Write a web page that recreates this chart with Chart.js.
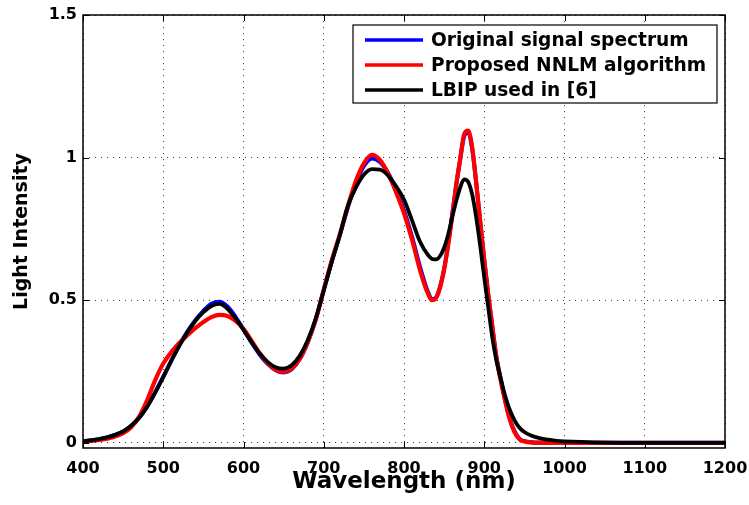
<!DOCTYPE html>
<html>
<head>
<meta charset="utf-8">
<script src="https://cdn.jsdelivr.net/npm/chart.js@4.4.0/dist/chart.umd.min.js"></script>
<style>
  html, body { margin: 0; padding: 0; background: #fff; }
  #wrap { width: 749px; height: 505px; }
</style>
</head>
<body>
<div id="wrap"><canvas id="spectrum" width="749" height="505"></canvas></div>
<script>
// wavelength samples (nm)
const wavelengths = [
  400, 410, 420, 430, 440, 450, 460, 470, 480, 490,
  500, 510, 520, 530, 540, 550, 560, 570, 580, 590,
  600, 610, 620, 630, 640, 650, 660, 670, 680, 690,
  700, 710, 720, 730, 740, 750, 760, 770, 780, 790,
  800, 810, 820, 830, 835, 840, 845, 850, 855, 860,
  865, 870, 875, 880, 885, 890, 895, 900, 905, 910,
  915, 920, 925, 930, 935, 940, 945, 950, 960, 970,
  980, 990, 1000, 1050, 1100, 1150, 1200
];

const original = [
  0.006, 0.009, 0.013, 0.019, 0.028, 0.040, 0.060, 0.088, 0.128, 0.178,
  0.232, 0.288, 0.342, 0.390, 0.430, 0.463, 0.488, 0.495, 0.478, 0.442,
  0.398, 0.352, 0.310, 0.277, 0.255, 0.247, 0.258, 0.293, 0.352, 0.432,
  0.535, 0.636, 0.728, 0.825, 0.910, 0.970, 0.997, 0.985, 0.947, 0.888,
  0.815, 0.722, 0.617, 0.528, 0.503, 0.510, 0.548, 0.610, 0.697, 0.798,
  0.903, 0.993, 1.075, 1.088, 1.030, 0.910, 0.775, 0.640, 0.520, 0.410,
  0.303, 0.232, 0.163, 0.104, 0.058, 0.029, 0.012, 0.006, 0.002, 0.001,
  0, 0, 0, 0, 0, 0, 0
];

const proposed = [
  0.005, 0.007, 0.010, 0.015, 0.022, 0.034, 0.055, 0.092, 0.150, 0.220,
  0.278, 0.318, 0.350, 0.377, 0.402, 0.424, 0.441, 0.449, 0.445, 0.428,
  0.400, 0.358, 0.315, 0.280, 0.257, 0.249, 0.260, 0.294, 0.353, 0.433,
  0.537, 0.640, 0.730, 0.830, 0.918, 0.980, 1.010, 0.992, 0.945, 0.880,
  0.805, 0.712, 0.605, 0.522, 0.500, 0.508, 0.545, 0.607, 0.693, 0.795,
  0.902, 0.995, 1.082, 1.095, 1.035, 0.912, 0.775, 0.640, 0.518, 0.408,
  0.303, 0.225, 0.160, 0.100, 0.056, 0.026, 0.010, 0.005, 0.001, 0,
  0, 0, 0, 0, 0, 0, 0
];

const lbip = [
  0.006, 0.009, 0.013, 0.019, 0.028, 0.040, 0.060, 0.088, 0.127, 0.176,
  0.230, 0.287, 0.340, 0.387, 0.427, 0.458, 0.480, 0.487, 0.470, 0.437,
  0.396, 0.353, 0.314, 0.284, 0.265, 0.260, 0.272, 0.305, 0.360, 0.436,
  0.535, 0.635, 0.728, 0.830, 0.895, 0.940, 0.960, 0.958, 0.938, 0.900,
  0.853, 0.780, 0.705, 0.658, 0.645, 0.643, 0.655, 0.684, 0.730, 0.790,
  0.847, 0.895, 0.924, 0.915, 0.870, 0.790, 0.690, 0.580, 0.475, 0.370,
  0.290, 0.232, 0.175, 0.130, 0.095, 0.068, 0.050, 0.038, 0.024, 0.016,
  0.011, 0.007, 0.005, 0.001, 0, 0, 0
];

const seriesLabels = ["Original signal spectrum", "Proposed NNLM algorithm", "LBIP used in [6]"];
const seriesColors = ["#0000ff", "#ff0000", "#000000"];
const yTicks = [0, 0.5, 1, 1.5];

const FONT = "'DejaVu Sans', sans-serif";

const toPoints = (vals) => wavelengths.map((w, i) => ({ x: w, y: vals[i] }));

// box round the plot with inward tick marks, like the old matlab figures
const boxPlugin = {
  id: "box",
  afterDraw(chart) {
    const { ctx, chartArea: a, scales } = chart;
    ctx.save();
    ctx.strokeStyle = "#000";
    ctx.lineWidth = 1.5;
    ctx.strokeRect(a.left, a.top, a.right - a.left, a.bottom - a.top);

    ctx.lineWidth = 1;
    const len = 6;
    ctx.beginPath();
    scales.x.ticks.forEach((t) => {
      const px = Math.round(scales.x.getPixelForValue(t.value)) + 0.5;
      ctx.moveTo(px, a.bottom); ctx.lineTo(px, a.bottom - len);
      ctx.moveTo(px, a.top); ctx.lineTo(px, a.top + len);
    });
    scales.y.ticks.forEach((t) => {
      const py = Math.round(scales.y.getPixelForValue(t.value)) + 0.5;
      ctx.moveTo(a.left, py); ctx.lineTo(a.left + len, py);
      ctx.moveTo(a.right, py); ctx.lineTo(a.right - len, py);
    });
    ctx.stroke();

    // legend box inside the plot, top right
    const lx = 353, ly = 25, lw = 364, lh = 78;
    ctx.fillStyle = "#fff";
    ctx.fillRect(lx, ly, lw, lh);
    ctx.lineWidth = 1.2;
    ctx.strokeRect(lx, ly, lw, lh);
    ctx.font = "bold 18.6px " + FONT;
    ctx.textBaseline = "middle";
    ctx.textAlign = "left";
    chart.data.datasets.forEach((ds, i) => {
      const y = ly + 15 + i * 25;
      ctx.strokeStyle = ds.borderColor;
      ctx.lineWidth = 3.5;
      ctx.beginPath();
      ctx.moveTo(lx + 12, y);
      ctx.lineTo(lx + 70, y);
      ctx.stroke();
      ctx.fillStyle = "#000";
      ctx.fillText(ds.label, lx + 78, y + 1);
    });
    ctx.restore();
  }
};

const ctx = document.getElementById("spectrum").getContext("2d");
new Chart(ctx, {
  type: "line",
  data: {
    datasets: [
      { label: seriesLabels[0], data: toPoints(original), borderColor: seriesColors[0], borderWidth: 4, order: 3 },
      { label: seriesLabels[1], data: toPoints(proposed), borderColor: seriesColors[1], borderWidth: 4.2, order: 2 },
      { label: seriesLabels[2], data: toPoints(lbip), borderColor: seriesColors[2], borderWidth: 3.8, order: 1 }
    ]
  },
  options: {
    responsive: false,
    animation: false,
    devicePixelRatio: 1,
    elements: {
      point: { radius: 0 },
      line: { cubicInterpolationMode: "monotone", fill: false }
    },
    layout: { padding: { top: 15, right: 24, left: 0, bottom: 0 } },
    scales: {
      x: {
        type: "linear",
        min: 400,
        max: 1200,
        ticks: {
          stepSize: 100,
          color: "#000",
          padding: 11,
          font: { family: FONT, size: 16, weight: "bold" },
          callback: (v) => String(v)
        },
        grid: { color: "rgba(0,0,0,0.75)", lineWidth: 1, drawTicks: false },
        border: { display: false, dash: [1, 5] },
        title: {
          display: true,
          text: "Wavelength (nm)",
          color: "#000",
          font: { family: FONT, size: 23, weight: "bold" },
          padding: { top: 0, bottom: 9 }
        },
        afterFit: (s) => {
          s.height = 57;
          s.paddingLeft = 0;
          s.paddingRight = 0;
        }
      },
      y: {
        min: -0.018,
        max: 1.5,
        afterBuildTicks: (s) => { s.ticks = yTicks.map((v) => ({ value: v })); },
        ticks: {
          color: "#000",
          padding: 6,
          font: { family: FONT, size: 16, weight: "bold" },
          callback: (v) => String(v)
        },
        grid: { color: "rgba(0,0,0,0.75)", lineWidth: 1, drawTicks: false },
        border: { display: false, dash: [1, 5] },
        title: {
          display: true,
          text: "Light Intensity",
          color: "#000",
          font: { family: FONT, size: 19, weight: "bold" },
          padding: { top: 11, bottom: 0 }
        },
        afterFit: (s) => {
          s.width = 83;
          s.paddingTop = 0;
          s.paddingBottom = 0;
        }
      }
    },
    plugins: {
      legend: { display: false },
      tooltip: { enabled: false }
    }
  },
  plugins: [boxPlugin]
});
</script>
</body>
</html>
